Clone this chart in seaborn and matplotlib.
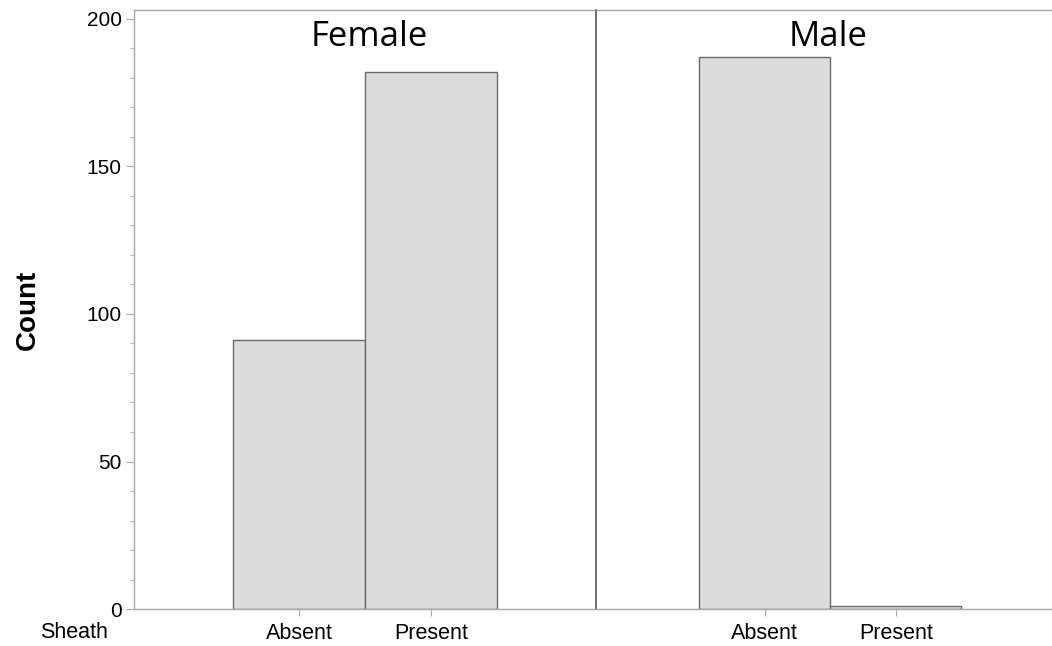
import matplotlib
matplotlib.use("Agg")
import matplotlib.pyplot as plt
import seaborn as sns
import pandas as pd
from matplotlib.ticker import MultipleLocator

sns.set_style("white")
plt.rcParams['font.family'] = ['Liberation Sans', 'DejaVu Sans']
plt.rcParams['text.color'] = 'black'
plt.rcParams['axes.labelcolor'] = 'black'
plt.rcParams['xtick.labelcolor'] = 'black'
plt.rcParams['ytick.labelcolor'] = 'black'

panels = ["Female", "Male"]
categories = ["Absent", "Present"]
female_counts = [91, 182]
male_counts = [187, 1]

df = pd.DataFrame({
    "Sex": ["Female"] * 2 + ["Male"] * 2,
    "Sheath": categories * 2,
    "Count": female_counts + male_counts,
})

fig = plt.figure(figsize=(10.52, 6.46), dpi=100)
gs = fig.add_gridspec(1, 2, left=0.1274, right=1.0, top=0.985, bottom=0.057,
                      wspace=0, width_ratios=[462, 456])
axes = [fig.add_subplot(gs[0, 0])]
axes.append(fig.add_subplot(gs[0, 1], sharey=axes[0]))

xlims = [(-1.25, 2.25), (-1.285, 2.19)]
spine_c = "#a8a8a8"
for ax, sex, xl in zip(axes, panels, xlims):
    sub = df[df["Sex"] == sex]
    sns.barplot(data=sub, x="Sheath", y="Count", order=categories, ax=ax,
                color="#dcdcdc", width=1.0, edgecolor="#6a6a6a", linewidth=1.0,
                saturation=1, errorbar=None)
    ax.set_xlim(*xl)
    ax.set_ylim(0, 203)
    ax.set_xlabel("")
    ax.set_ylabel("")
    ax.text(0.51, 0.955, sex, transform=ax.transAxes, ha="center", va="center",
            fontsize=25, family=["Open Sans", "DejaVu Sans"], color="black")
    for s in ax.spines.values():
        s.set_color(spine_c)
        s.set_linewidth(1.0)
    ax.spines["right"].set_visible(False)
    ax.tick_params(axis="x", direction="out", length=5, color=spine_c,
                   labelsize=15.5, pad=5, bottom=True, labelcolor="black")

axes[1].spines["left"].set_color("#555555")
axes[1].spines["left"].set_linewidth(1.2)
axes[1].tick_params(axis="y", left=False, labelleft=False, which="both")

ax = axes[0]
ax.yaxis.set_major_locator(MultipleLocator(50))
ax.yaxis.set_minor_locator(MultipleLocator(10))
ax.tick_params(axis="y", which="major", direction="out", length=6, color=spine_c,
               labelsize=15, pad=3, left=True, labelcolor="black")
ax.tick_params(axis="y", which="minor", direction="out", length=3, color=spine_c, left=True)
ax.set_ylabel("Count", fontsize=20, fontweight="bold", labelpad=33, color="black")

fig.text(0.038, 0.021, "Sheath", fontsize=15.5, ha="left", va="center", color="black")

fig.savefig("out.png", dpi=100)
